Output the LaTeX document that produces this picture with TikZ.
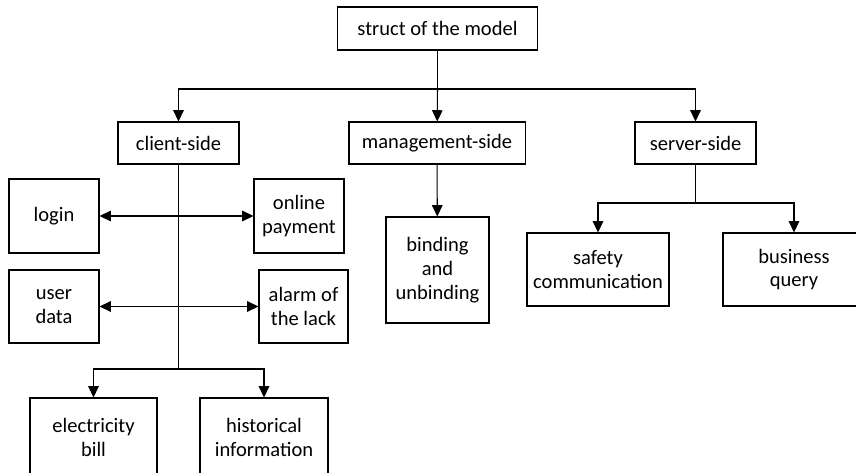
\documentclass[tikz,border=0pt]{standalone}
\usepackage{fontspec}
\setmainfont{Carlito}
\usetikzlibrary{arrows.meta}

\begin{document}
\begin{tikzpicture}[x=0.025cm, y=-0.025cm,
        box/.style={draw, rectangle, inner sep=0pt, align=center, line width=0.75pt,
        font=\fontsize{14.6}{17}\selectfont},
        link/.style={line width=0.75pt}, >={Triangle[length=8pt, width=7.5pt]}]

        \clip (0,0) rectangle (856,473);

        \node[box, minimum width=5cm, minimum height=1.075cm] (model) at (437.5,28.5) {struct of the model};

        \node[box, minimum width=3.025cm, minimum height=1.05cm] (client) at (178.5,143) {client-side};
        \node[box, minimum width=4.4cm, minimum height=1.05cm] (mgmt) at (437,143) {management-side};
        \node[box, minimum width=3.025cm, minimum height=1.05cm] (server) at (695.5,143) {server-side};

        \node[box, minimum width=2.25cm, minimum height=1.85cm] (login) at (54,216) {login};
        \node[box, minimum width=2.25cm, minimum height=1.85cm] (payment) at (299,216) {online\\payment};
        \node[box, minimum width=2.25cm, minimum height=1.825cm] (userdata) at (54,306.5) {user\\data};
        \node[box, minimum width=2.225cm, minimum height=1.825cm] (alarm) at (303.5,306.5) {alarm of\\the lack};
        \node[box, minimum width=3.175cm, minimum height=1.95cm] (bill) at (93.5,437) {electricity\\bill};
        \node[box, minimum width=3.2cm, minimum height=1.95cm] (history) at (264,437) {historical\\information};

        \node[box, minimum width=2.575cm, minimum height=2.65cm] (binding) at (437.5,270) {binding\\and\\unbinding};

        \node[box, minimum width=3.55cm, minimum height=1.825cm] (safety) at (598,269.5) {safety\\communication};
        \node[box, minimum width=3.55cm, minimum height=1.825cm] (business) at (794,269.5) {business\\query};

        \coordinate (split) at (437.5,89);
        \coordinate (clientfork) at (178.5,369);
        \coordinate (serverfork) at (695.5,203);

        \draw[link] (model) -- (split);
        \draw[link, ->] (split) -| (client);
        \draw[link, ->] (split) -- (mgmt);
        \draw[link, ->] (split) -| (server);

        \draw[link, line width=1.3pt] (client) -- (clientfork);
        \draw[link, ->] (clientfork) -| (bill);
        \draw[link, ->] (clientfork) -| (history);
        \draw[link, <->] (login) -- (payment);
        \draw[link, <->] (userdata) -- (alarm);

        \draw[link, ->] (mgmt) -- (binding);

        \draw[link] (server) -- (serverfork);
        \draw[link, ->] (serverfork) -| (safety);
        \draw[link, ->] (serverfork) -| (business);

    \end{tikzpicture}
\end{document}
